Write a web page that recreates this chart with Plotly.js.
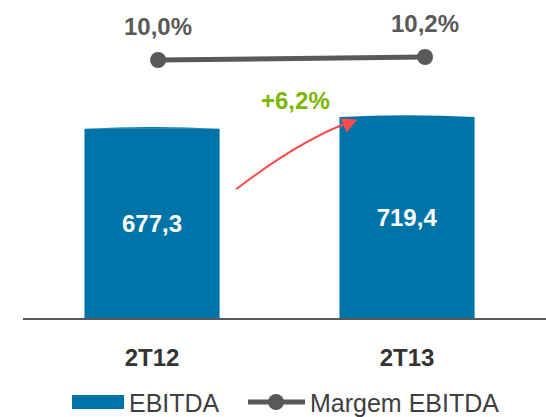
<!DOCTYPE html>
<html><head><meta charset="utf-8">
<script src="https://cdn.plot.ly/plotly-3.0.1.min.js"></script>
<style>html,body{margin:0;padding:0;background:#fff}#c{width:546px;height:417px}</style>
</head><body><div id="c"></div>
<script>
const categories = ['2T12', '2T13'];
const ebitda = [677.3, 719.4];
const margem = [10.0, 10.2];
const seriesNames = ['EBITDA', 'Margem EBITDA'];

const fmt = (v, d) => v.toFixed(d).replace('.', ',');
const growth = (ebitda[1] / ebitda[0] - 1) * 100;
const FONT = 'Liberation Sans, Arial, sans-serif';
const BLUE = '#0073a8';
const GREY = '#595959';
const BW = 0.53;

const bars = {
  type: 'bar', x: categories, y: ebitda, name: seriesNames[0],
  width: BW, marker: {color: BLUE},
  text: ebitda.map(v => fmt(v, 1)), textposition: 'inside', insidetextanchor: 'middle',
  textfont: {family: FONT, size: 24, color: '#ffffff', weight: 'bold'},
  hoverinfo: 'skip'
};
const line = {
  type: 'scatter', mode: 'lines+markers', x: categories, y: margem, name: seriesNames[1],
  xaxis: 'x2', yaxis: 'y2',
  line: {color: GREY, width: 5}, marker: {color: GREY, size: 16},
  hoverinfo: 'skip'
};

const shapes = [];
ebitda.forEach((v, i) => {
  shapes.push({type: 'path', xref: 'x', yref: 'y', layer: 'above',
    path: `M ${i - BW/2} ${v} Q ${i} ${v + 13} ${i + BW/2} ${v} Z`,
    fillcolor: BLUE, line: {width: 0}});
});
// curved growth arrow between the bars
const ax0 = 0.33, ay0 = ebitda[0] * 0.68, ax1 = 0.785, ay1 = ebitda[1] * 0.98;
shapes.push({type: 'path', xref: 'x', yref: 'y',
  path: `M ${ax0} ${ay0} Q 0.58 ${ebitda[0]*0.94} ${ax1} ${ay1}`,
  line: {color: '#ff4b4b', width: 2}});

// custom legend (paper coordinates)
const px = p => (p - 23) / 523, py = p => (318 - p) / 318;
shapes.push({type: 'rect', xref: 'paper', yref: 'paper',
  x0: px(72), x1: px(124), y0: py(409), y1: py(395), fillcolor: BLUE, line: {width: 0}});
shapes.push({type: 'line', xref: 'paper', yref: 'paper',
  x0: px(248), x1: px(305), y0: py(402), y1: py(402), line: {color: GREY, width: 5}});
shapes.push({type: 'circle', xref: 'paper', yref: 'paper',
  x0: px(268), x1: px(284), y0: py(410), y1: py(394), fillcolor: GREY, line: {width: 0}});

const annotations = [];
margem.forEach((m, i) => {
  annotations.push({xref: 'x2', yref: 'y2', x: categories[i], y: m, yshift: 34,
    text: fmt(m, 1) + '%', showarrow: false,
    font: {family: FONT, size: 24, color: GREY, weight: 'bold'}});
});
annotations.push({xref: 'x', yref: 'y', x: (ax0 + ax1) / 2 + 0.005, y: ebitda[1] * 1.08,
  text: '+' + fmt(growth, 1) + '%', showarrow: false,
  font: {family: FONT, size: 24, color: '#7ab800', weight: 'bold'}});
annotations.push({xref: 'x', yref: 'y', x: ax1 + 0.02, y: ay1 + 5, text: '',
  showarrow: true, arrowhead: 2, arrowsize: 1.5, arrowwidth: 2, arrowcolor: '#ff4b4b',
  ax: -14, ay: 6, standoff: 0});
annotations.push({xref: 'paper', yref: 'paper', x: px(127), y: py(403), xanchor: 'left',
  yanchor: 'middle', text: seriesNames[0], showarrow: false,
  font: {family: FONT, size: 25, color: '#404040'}});
annotations.push({xref: 'paper', yref: 'paper', x: px(308), y: py(403), xanchor: 'left',
  yanchor: 'middle', text: seriesNames[1], showarrow: false,
  font: {family: FONT, size: 25, color: '#404040'}});

const layout = {
  width: 546, height: 417,
  margin: {l: 23, r: 0, t: 0, b: 99},
  paper_bgcolor: '#ffffff', plot_bgcolor: '#ffffff',
  showlegend: false,
  xaxis: {type: 'category', range: [-0.506, 1.545], showline: true, linecolor: GREY,
    linewidth: 2, ticks: '', showgrid: false, zeroline: false, ticklabelstandoff: 17,
    tickfont: {family: FONT, size: 24, color: '#333333', weight: 'bold'}, fixedrange: true},
  xaxis2: {type: 'category', overlaying: 'x', range: [-0.506, 1.453], visible: false},
  yaxis: {range: [0, 1138], visible: false, showgrid: false, zeroline: false},
  yaxis2: {overlaying: 'y', range: [-7.2, 14.0], visible: false},
  shapes: shapes, annotations: annotations
};
Plotly.newPlot('c', [bars, line], layout, {displayModeBar: false, staticPlot: true});
</script></body></html>
